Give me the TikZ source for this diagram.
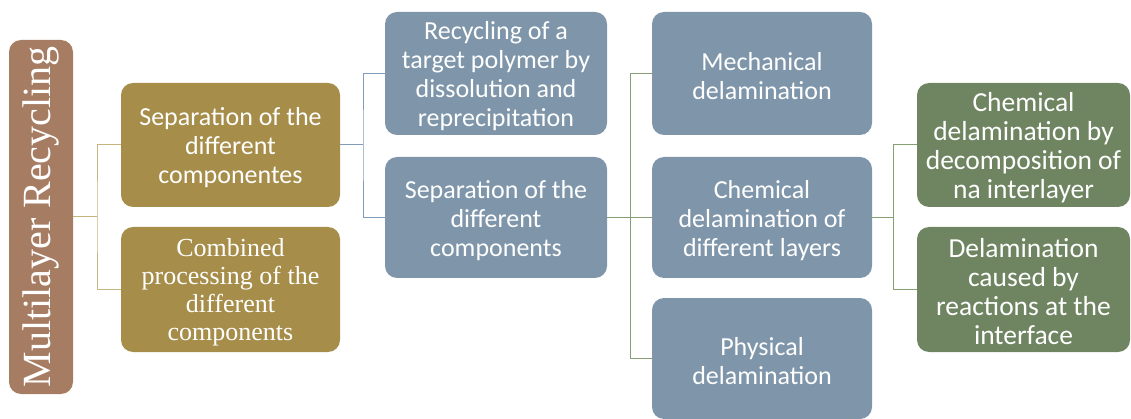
\documentclass[tikz,border=0pt]{standalone}
\usepackage{fontspec}
\setmainfont{Carlito}
\newfontfamily\serifx{Liberation Serif}
\newcommand\firstln{\rule{0pt}{23.5pt}}
\definecolor{rootc}{RGB}{166,124,98}
\definecolor{olivec}{RGB}{166,141,74}
\definecolor{bluec}{RGB}{127,150,170}
\definecolor{greenc}{RGB}{111,133,97}
\definecolor{lineA}{RGB}{200,180,125}
\definecolor{lineB}{RGB}{130,155,185}
\definecolor{lineC}{RGB}{135,160,115}
\tikzset{
  box/.style={rounded corners=12pt, inner sep=0pt, align=center, text=white,
    font=\fontsize{26}{29}\selectfont},
  oliv/.style={box, fill=olivec},
  blu/.style={box, fill=bluec},
  grn/.style={box, fill=greenc, font=\fontsize{27.5}{29}\selectfont},
  conA/.style={draw=lineA, line width=1pt},
  conB/.style={draw=lineB, line width=1pt},
  conC/.style={draw=lineC, line width=1pt}
}
\begin{document}
\begin{tikzpicture}[x=1pt,y=-1pt]
\useasboundingbox (0,0) rectangle (1131,419);
\node[rounded corners=12pt, inner sep=0pt, fill=rootc, minimum width=64pt, minimum height=354pt] (R) at (41,217) {};
\node[text=white, rotate=90, font=\serifx\fontsize{40}{44}\selectfont] (Rt) at (R.center) {Multilayer Recycling};
\node[oliv, minimum width=219pt, minimum height=124pt] (A) at (230.5,145) {\firstln Separation of the\\different\\componentes};
\node[oliv, minimum width=219pt, minimum height=125pt, font=\serifx\fontsize{26}{28}\selectfont] (B) at (230.5,289.5) {\firstln Combined\\processing of the\\different\\components};
\node[blu, minimum width=222pt, minimum height=123pt] (C) at (496,73.5) {\firstln Recycling of a\\target polymer by\\dissolution and\\reprecipitation};
\node[blu, minimum width=222pt, minimum height=121pt] (D) at (496,217.5) {\firstln Separation of the\\different\\components};
\node[blu, minimum width=220pt, minimum height=123pt] (E) at (762,73.5) {\firstln Mechanical\\delamination};
\node[blu, minimum width=220pt, minimum height=121pt] (F) at (762,217.5) {\firstln Chemical\\delamination of\\different layers};
\node[blu, minimum width=220pt, minimum height=121pt] (G) at (762,358.5) {\firstln Physical\\delamination};
\node[grn, minimum width=213pt, minimum height=124pt] (H) at (1023.5,145) {\firstln Chemical\\delamination by\\decomposition of\\na interlayer};
\node[grn, minimum width=213pt, minimum height=125pt] (I) at (1023.5,289.5) {\firstln Delamination\\caused by\\reactions at the\\interface};
\coordinate (j1) at (97,217);
\coordinate (j2) at (363,145);
\coordinate (j3) at (630,217.5);
\coordinate (j4) at (893,217.5);
\draw[conA] (R.east) -- (j1);
\draw[conA] (A.west) -| (j1) |- (B.west);
\draw[conB] (A.east) -- (j2);
\draw[conB] (C.west) -| (j2) |- (D.west);
\draw[conC] (D.east) -- (F.west);
\draw[conC] (E.west) -| (j3) |- (G.west);
\draw[conC] (F.east) -- (j4);
\draw[conC] (H.west) -| (j4) |- (I.west);
\end{tikzpicture}
\end{document}
